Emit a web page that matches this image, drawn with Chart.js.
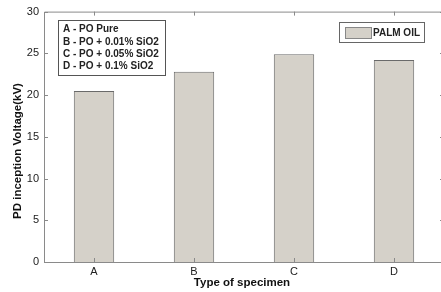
<!DOCTYPE html>
<html>
<head>
<meta charset="utf-8">
<script src="https://cdn.jsdelivr.net/npm/chart.js@4/dist/chart.umd.min.js"></script>
<style>
html,body{margin:0;padding:0;background:#fff;overflow:hidden;}
#wrap{width:441px;height:292px;position:relative;overflow:hidden;}
</style>
</head>
<body>
<div id="wrap"><canvas id="c" width="444" height="292"></canvas></div>
<script>
const categories = ['A', 'B', 'C', 'D'];
const palmOilValues = [20.5, 22.8, 24.9, 24.2];
const seriesLabel = 'PALM OIL';
const yTicks = [0, 5, 10, 15, 20, 25, 30];
const noteLines = ['A - PO Pure', 'B - PO + 0.01% SiO2', 'C - PO + 0.05% SiO2', 'D - PO + 0.1% SiO2'];
const yTitle = 'PD inception Voltage(kV)';
const xTitle = 'Type of specimen';

const FONT = '"Liberation Sans", Arial, sans-serif';
const AXIS_COLOR = '#8a8a8a';
const BAR_FILL = '#d5d1c9';
const BAR_BORDER = '#6a6a6a';

const framePlugin = {
  id: 'frame',
  afterDatasetsDraw(chart) {
    const ctx = chart.ctx;
    const a = chart.chartArea;
    const x = chart.scales.x, y = chart.scales.y;
    ctx.save();
    ctx.strokeStyle = AXIS_COLOR;
    ctx.lineWidth = 1;
    ctx.beginPath();
    ctx.moveTo(a.left + 0.5, a.top + 0.5);
    ctx.lineTo(a.right + 0.5, a.top + 0.5);
    ctx.lineTo(a.right + 0.5, a.bottom + 0.5);
    ctx.lineTo(a.left + 0.5, a.bottom + 0.5);
    ctx.closePath();
    ctx.stroke();
    // inward ticks
    ctx.beginPath();
    yTicks.forEach(v => {
      const py = Math.round(y.getPixelForValue(v)) + 0.5;
      ctx.moveTo(a.left, py); ctx.lineTo(a.left + 4, py);
      ctx.moveTo(a.right, py); ctx.lineTo(a.right - 4, py);
    });
    categories.forEach((c, i) => {
      const px = Math.round(x.getPixelForValue(i)) + 0.5;
      ctx.moveTo(px, a.top); ctx.lineTo(px, a.top + 4);
      ctx.moveTo(px, a.bottom); ctx.lineTo(px, a.bottom - 4);
    });
    ctx.stroke();

    // y axis title
    ctx.fillStyle = '#111';
    ctx.font = 'bold 11.5px ' + FONT;
    ctx.textAlign = 'center';
    ctx.textBaseline = 'middle';
    ctx.save();
    ctx.translate(18, 151);
    ctx.rotate(-Math.PI / 2);
    ctx.fillText(yTitle, 0, 0);
    ctx.restore();
    // x axis title
    ctx.fillText(xTitle, 242, 283);

    ctx.textAlign = 'left';
    // note box
    ctx.font = 'bold 10px ' + FONT;
    const bx = 58, by = 20, bw = 107, bh = 55;
    ctx.fillStyle = '#fff';
    ctx.fillRect(bx, by, bw, bh);
    ctx.strokeStyle = '#555';
    ctx.strokeRect(bx + 0.5, by + 0.5, bw, bh);
    ctx.fillStyle = '#222';
    noteLines.forEach((t, i) => {
      ctx.fillText(t, bx + 5, by + 9.5 + i * 12.3);
    });

    // series legend
    const lx = 339, ly = 22, lw = 85, lh = 20;
    ctx.fillStyle = '#fff';
    ctx.fillRect(lx, ly, lw, lh);
    ctx.strokeStyle = '#666';
    ctx.strokeRect(lx + 0.5, ly + 0.5, lw, lh);
    ctx.fillStyle = BAR_FILL;
    ctx.fillRect(345, 27, 26, 11);
    ctx.strokeStyle = '#888';
    ctx.strokeRect(345.5, 27.5, 26, 11);
    ctx.fillStyle = '#222';
    ctx.fillText(seriesLabel, 373, 33);
    ctx.restore();
  }
};

new Chart(document.getElementById('c'), {
  type: 'bar',
  data: {
    labels: categories,
    datasets: [{
      label: seriesLabel,
      data: palmOilValues,
      backgroundColor: BAR_FILL,
      borderColor: BAR_BORDER,
      borderWidth: 1,
      barPercentage: 0.404,
      categoryPercentage: 1.0
    }]
  },
  options: {
    responsive: false,
    animation: false,
    layout: { padding: { top: 11, right: 0, left: 0, bottom: 0 } },
    plugins: { legend: { display: false }, tooltip: { enabled: false } },
    scales: {
      x: {
        offset: true,
        grid: { display: false, drawTicks: false },
        border: { display: false },
        ticks: { color: '#222', font: { family: FONT, size: 11 }, padding: 3 },
        afterFit(s) { s.height = 30; }
      },
      y: {
        min: 0, max: 30,
        grid: { display: false, drawTicks: false },
        border: { display: false },
        afterBuildTicks(s) { s.ticks = yTicks.map(v => ({ value: v })); },
        ticks: { color: '#222', font: { family: FONT, size: 11 }, padding: 5 },
        afterFit(s) { s.width = 44; }
      }
    }
  },
  plugins: [framePlugin]
});
</script>
</body>
</html>
